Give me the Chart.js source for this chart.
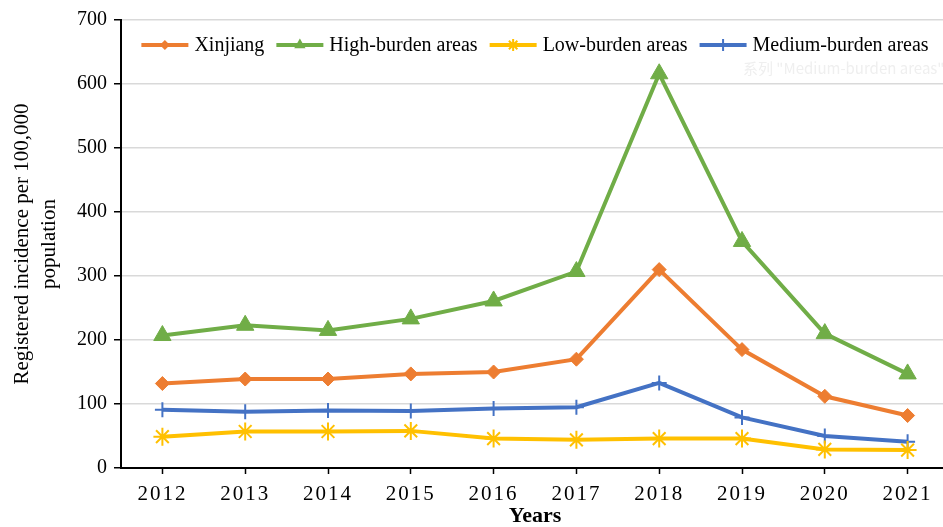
<!DOCTYPE html>
<html>
<head>
<meta charset="utf-8">
<script src="https://cdn.jsdelivr.net/npm/chart.js@4.4.0/dist/chart.umd.min.js"></script>
<style>
  html, body { margin: 0; padding: 0; background: #fff; overflow: hidden; width: 943px; height: 527px; }
  canvas { display: block; }
</style>
</head>
<body>
<canvas id="chart" width="960" height="527" style="width:960px;height:527px"></canvas>
<script>
// Registered incidence per 100,000 population, 2012-2021
const years = ['2012', '2013', '2014', '2015', '2016', '2017', '2018', '2019', '2020', '2021'];
const xinjiang     = [132, 139, 139, 147, 150, 170, 310, 185, 112, 82];
const highBurden   = [207, 223, 215, 233, 261, 307, 616, 354, 210, 147];
const lowBurden    = [49, 57, 57, 58, 46, 44, 46, 46, 29, 28];
const mediumBurden = [91, 88, 90, 89, 93, 95, 133, 79, 50, 41];
const yTicks = [0, 100, 200, 300, 400, 500, 600, 700];

const SERIF = '"Liberation Serif", "Times New Roman", serif';

function series(label, data, color, pointStyle, radius, pointBorderWidth, legendRadius) {
  return {
    label, data,
    borderColor: color,
    backgroundColor: color,
    borderWidth: 4,
    pointStyle,
    pointRadius: radius,
    pointHoverRadius: radius,
    pointBackgroundColor: color,
    pointBorderColor: color,
    pointBorderWidth,
    legendRadius,
    tension: 0
  };
}

// small marker painter for the key, same shapes as the chart's point styles
function paintMarker(ctx, style, x, y, r, color) {
  ctx.save();
  ctx.fillStyle = color;
  ctx.strokeStyle = color;
  ctx.lineWidth = 2;
  ctx.beginPath();
  if (style === 'rectRot') {
    ctx.moveTo(x, y - r); ctx.lineTo(x + r, y); ctx.lineTo(x, y + r); ctx.lineTo(x - r, y);
    ctx.closePath(); ctx.fill();
  } else if (style === 'triangle') {
    ctx.moveTo(x, y - r);
    ctx.lineTo(x + r * Math.sin(Math.PI / 3), y + r / 2);
    ctx.lineTo(x - r * Math.sin(Math.PI / 3), y + r / 2);
    ctx.closePath(); ctx.fill();
  } else if (style === 'star') {
    for (let a = 0; a < 4; a++) {
      const t = a * Math.PI / 4;
      ctx.moveTo(x - r * Math.cos(t), y - r * Math.sin(t));
      ctx.lineTo(x + r * Math.cos(t), y + r * Math.sin(t));
    }
    ctx.stroke();
  } else if (style === 'cross') {
    ctx.moveTo(x, y - r); ctx.lineTo(x, y + r);
    ctx.moveTo(x - r, y); ctx.lineTo(x + r, y);
    ctx.stroke();
  }
  ctx.restore();
}

// Horizontal key laid over the top of the plot area
const seriesKey = {
  id: 'seriesKey',
  afterDraw(chart) {
    const ctx = chart.ctx;
    const area = chart.chartArea;
    ctx.save();
    ctx.letterSpacing = '0px';
    ctx.font = '20px ' + SERIF;
    ctx.textBaseline = 'middle';
    ctx.textAlign = 'left';
    const symW = 47, gap = 6, sep = 12;
    const items = chart.data.datasets.map(d => ({ d, w: ctx.measureText(d.label).width }));
    const total = items.reduce((s, it) => s + symW + gap + it.w, 0) + sep * (items.length - 1);
    let x = (area.left + area.right) / 2 - total / 2;
    const y = area.top + 25;
    items.forEach(({ d, w }) => {
      ctx.strokeStyle = d.borderColor;
      ctx.lineWidth = 4;
      ctx.beginPath();
      ctx.moveTo(x, y);
      ctx.lineTo(x + symW, y);
      ctx.stroke();
      paintMarker(ctx, d.pointStyle, x + symW / 2, y, d.legendRadius, d.borderColor);
      ctx.fillStyle = '#000';
      ctx.fillText(d.label, x + symW + gap, y + 1);
      x += symW + gap + w + sep;
    });

    // faint leftover hover caption near the key
    ctx.font = '15px "Noto Sans CJK SC", sans-serif';
    ctx.fillStyle = '#efefef';
    ctx.fillText('系列 "Medium-burden areas"', 743, 68);
    ctx.restore();
  }
};

// wider letter spacing for the year labels (their layer is drawn after the datasets)
const yearSpacing = {
  id: 'yearSpacing',
  afterDatasetsDraw(chart) { chart.ctx.letterSpacing = '2px'; },
  afterDraw(chart) { chart.ctx.letterSpacing = '0px'; }
};

new Chart(document.getElementById('chart'), {
  type: 'line',
  data: {
    labels: years,
    datasets: [
      series('Xinjiang', xinjiang, '#ED7D31', 'rectRot', 7, 1, 5),
      series('High-burden areas', highBurden, '#70AD47', 'triangle', 10, 1, 6.5),
      series('Low-burden areas', lowBurden, '#FFC000', 'star', 9, 2, 6),
      series('Medium-burden areas', mediumBurden, '#4472C4', 'cross', 7.5, 2, 6)
    ]
  },
  options: {
    responsive: false,
    animation: false,
    events: [],
    layout: { padding: { top: 20, right: 9, bottom: 0, left: 0 } },
    plugins: {
      legend: { display: false },
      tooltip: { enabled: false }
    },
    scales: {
      x: {
        type: 'category',
        offset: true,
        grid: { display: true, drawOnChartArea: false, drawTicks: true, tickLength: 6, tickColor: '#000', tickWidth: 1.5, offset: false },
        border: { display: true, color: '#000', width: 2 },
        ticks: { z: 1, color: '#000', font: { family: SERIF, size: 21 }, padding: 8, maxRotation: 0, autoSkip: false },
        title: {
          display: true, text: 'Years', color: '#000',
          font: { family: SERIF, size: 22, weight: 'bold', lineHeight: 1 },
          padding: { top: 0, bottom: 0 }
        },
        afterFit(s) { s.height = 59; }
      },
      y: {
        min: 0, max: 700,
        afterBuildTicks(s) { s.ticks = yTicks.map(v => ({ value: v })); },
        ticks: { color: '#000', font: { family: SERIF, size: 20 }, padding: 7 },
        grid: { color: '#d9d9d9', lineWidth: 1.5, tickColor: '#000', tickLength: 7, tickWidth: 1.5 },
        border: { color: '#000', width: 2 },
        title: {
          display: true,
          text: ['Registered incidence per 100,000', 'population'],
          color: '#000',
          font: { family: SERIF, size: 21, lineHeight: 1.3 },
          padding: { top: 9, bottom: 0 }
        },
        afterFit(s) { s.width = 121; }
      }
    }
  },
  plugins: [yearSpacing, seriesKey]
});
</script>
</body>
</html>
